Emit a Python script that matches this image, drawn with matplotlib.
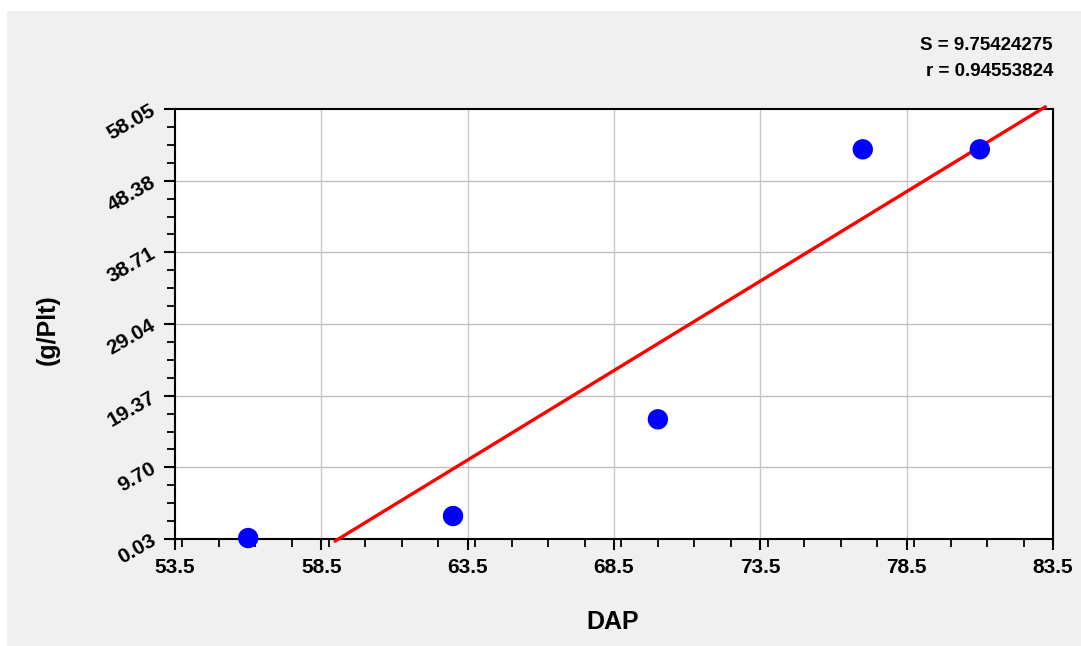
#!/usr/bin/env python3
"""Scatter of (g/Plt) against DAP with a least-squares line."""
import numpy as np
import matplotlib
matplotlib.use("Agg")
import matplotlib.pyplot as plt
from matplotlib.patches import Rectangle
from matplotlib.ticker import MultipleLocator, FixedLocator

# data
dap = [56.0, 63.0, 70.0, 77.0, 81.0]
gplt = [0.16, 3.13, 16.18, 52.61, 52.61]

x_ticks = [53.5, 58.5, 63.5, 68.5, 73.5, 78.5, 83.5]
y_ticks = [0.03, 9.70, 19.37, 29.04, 38.71, 48.38, 58.05]
y_labels = ["0.03", "9.70", "19.37", "29.04", "38.71", "48.38", "58.05"]

S_text = "S = 9.75424275"
r_text = "r = 0.94553824"

FONT = "Liberation Sans"
W, H = 1081, 646

fig = plt.figure(figsize=(W / 100, H / 100), dpi=100, facecolor="white")
fig.patches.append(Rectangle((7 / W, 0), 1 - 7 / W, (H - 11) / H,
                             transform=fig.transFigure, facecolor="#f0f0f0",
                             edgecolor="none", zorder=-5))

ax = fig.add_axes([175 / W, 1 - 539 / H, (1053 - 175) / W, (539 - 109) / H])
ax.set_zorder(2)
ax.set_facecolor("white")
ax.set_xlim(x_ticks[0], x_ticks[-1])
ax.set_ylim(y_ticks[0], y_ticks[-1])

ax.xaxis.set_major_locator(FixedLocator(x_ticks))
ax.xaxis.set_minor_locator(MultipleLocator(1.25))
ystep = (y_ticks[-1] - y_ticks[0]) / 6
ax.yaxis.set_major_locator(FixedLocator(y_ticks))
ax.yaxis.set_minor_locator(FixedLocator(
    [y_ticks[0] + i * ystep / 4 for i in range(25)]))

ax.set_xticklabels([f"{v:.1f}" for v in x_ticks], fontfamily=FONT,
                   fontweight="bold", fontsize=15)
ax.set_yticklabels(y_labels, fontfamily=FONT, fontweight="bold", fontsize=15,
                   rotation=30, ha="right", va="center", rotation_mode="anchor")

ax.tick_params(which="major", direction="out", length=8, width=1.5,
               colors="black")
ax.tick_params(which="minor", direction="out", length=5.5, width=1.3,
               colors="black")
ax.tick_params(axis="y", which="major", pad=7)
ax.tick_params(axis="x", which="major", pad=6)

for sp in ax.spines.values():
    sp.set_linewidth(1.5)
    sp.set_color("black")

# grid at inner majors
for xv in x_ticks[1:-1]:
    ax.axvline(xv, color="#c8c8c8", lw=1.0, zorder=1)
for yv in y_ticks[1:-1]:
    ax.axhline(yv, color="#c0c0c0", lw=1.0, zorder=1)

# least-squares line
slope, icpt = np.polyfit(dap, gplt, 1)
y0, y1 = -0.25, 58.35
xs = np.array([(y0 - icpt) / slope, (y1 - icpt) / slope])
ax.plot(xs, slope * xs + icpt, color="red", lw=2.4, zorder=3,
        clip_on=False, solid_capstyle="round")

ax.scatter(dap, gplt, s=215, color="#0000ff", zorder=4, clip_on=False,
           edgecolors="none")

fig.text(613 / W, 1 - 622 / H, "DAP", fontfamily=FONT, fontweight="bold",
         fontsize=18, ha="center", va="center")
fig.text(48 / W, 1 - 330 / H, "(g/Plt)", fontfamily=FONT, fontweight="bold",
         fontsize=18, ha="center", va="center", rotation=90)

fig.text(1053 / W, 1 - 46 / H, S_text, fontfamily=FONT, fontweight="bold",
         fontsize=13.5, ha="right", va="center")
fig.text(1053 / W, 1 - 72 / H, r_text, fontfamily=FONT, fontweight="bold",
         fontsize=13.5, ha="right", va="center")

fig.savefig("out.png", dpi=100, facecolor=fig.get_facecolor())
